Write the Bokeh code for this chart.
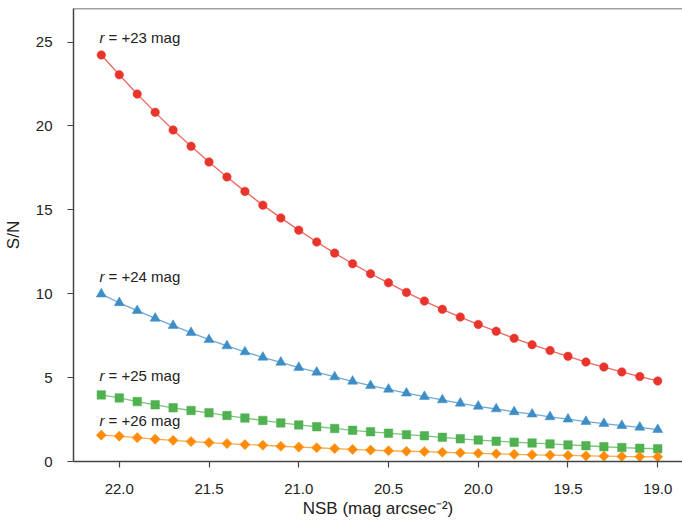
import math
from bokeh.plotting import figure
from bokeh.models import Range1d, FixedTicker, PrintfTickFormatter, Span
from bokeh.core.properties import value
from bokeh.embed import file_html
from bokeh.resources import INLINE

# ---- data ----
nsb = [22.1, 22.0, 21.9, 21.8, 21.7, 21.6, 21.5, 21.4, 21.3, 21.2, 21.1,
       21.0, 20.9, 20.8, 20.7, 20.6, 20.5, 20.4, 20.3, 20.2, 20.1,
       20.0, 19.9, 19.8, 19.7, 19.6, 19.5, 19.4, 19.3, 19.2, 19.1, 19.0]

sn_r23 = [24.23, 23.05, 21.90, 20.81, 19.76, 18.79, 17.85, 16.96, 16.10, 15.28, 14.52,
          13.79, 13.08, 12.42, 11.79, 11.19, 10.65, 10.08, 9.56, 9.07, 8.61,
          8.17, 7.76, 7.34, 6.96, 6.61, 6.27, 5.93, 5.63, 5.34, 5.06, 4.80]
sn_r24 = [9.98, 9.46, 8.99, 8.53, 8.10, 7.68, 7.26, 6.89, 6.53, 6.21, 5.91,
          5.60, 5.32, 5.04, 4.78, 4.52, 4.30, 4.07, 3.87, 3.67, 3.47,
          3.29, 3.13, 2.96, 2.82, 2.66, 2.52, 2.38, 2.26, 2.14, 2.04, 1.90]
sn_r25 = [3.97, 3.79, 3.57, 3.38, 3.20, 3.04, 2.90, 2.74, 2.59, 2.45, 2.30,
          2.18, 2.07, 1.97, 1.86, 1.77, 1.69, 1.60, 1.53, 1.44, 1.35,
          1.28, 1.21, 1.15, 1.10, 1.05, 0.99, 0.94, 0.88, 0.83, 0.79, 0.76]
sn_r26 = [1.57, 1.51, 1.42, 1.33, 1.26, 1.19, 1.13, 1.07, 1.01, 0.97, 0.91,
          0.86, 0.82, 0.77, 0.72, 0.68, 0.64, 0.61, 0.59, 0.55, 0.52,
          0.49, 0.46, 0.43, 0.40, 0.38, 0.36, 0.34, 0.32, 0.30, 0.29, 0.28]

series_labels = ["= +23 mag", "= +24 mag", "= +25 mag", "= +26 mag"]
x_ticks = [22.0, 21.5, 21.0, 20.5, 20.0, 19.5, 19.0]
y_ticks = [0, 5, 10, 15, 20, 25]

# ---- styling / positions ----
colors = ["#e8342b", "#3d8dc6", "#4fb14f", "#fe8c0a"]
markers = ["circle", "triangle", "square", "square"]
marker_sizes = [8.5, 10, 8.5, 7.2]
marker_angles = [0, 0, 0, math.pi / 4]
label_x = 22.11
label_y = [25.25, 11.05, 5.15, 2.45]

FONT = "Liberation Sans"
TXT = "#222222"
AX = "#444444"

p = figure(frame_width=609, frame_height=453,
           x_range=Range1d(22.255, 18.862), y_range=Range1d(0, 27),
           output_backend="svg", toolbar_location=None,
           min_border_left=65, min_border_top=8, min_border_right=0, min_border_bottom=0)
p.outline_line_color = None
p.xgrid.visible = False
p.ygrid.visible = False
p.background_fill_color = "white"
p.border_fill_color = "white"

for ys, c, m, s, a in zip([sn_r23, sn_r24, sn_r25, sn_r26], colors, markers, marker_sizes, marker_angles):
    p.line(nsb, ys, line_color=c, line_width=1.3, line_alpha=0.75)
    p.scatter(nsb, ys, marker=m, size=s, angle=a, fill_color=c, line_color=c, line_width=0.5)

for ly, lab in zip(label_y, series_labels):
    p.text(x=[label_x], y=[ly], text=["r"], text_font=value(FONT), text_font_style="italic",
           text_font_size="15px", text_color=TXT, text_baseline="alphabetic", text_align="left")
    p.text(x=[label_x], y=[ly], text=[lab], text_font=value(FONT),
           text_font_size="15px", text_color=TXT, text_baseline="alphabetic", text_align="left",
           x_offset=9)

p.add_layout(Span(location=27, dimension="width", line_color=AX, line_width=1.5))

p.xaxis.ticker = FixedTicker(ticks=x_ticks)
p.xaxis.formatter = PrintfTickFormatter(format="%.1f")
p.yaxis.ticker = FixedTicker(ticks=y_ticks)
p.xaxis.axis_label = "NSB (mag arcsec\u207b\u00b2)"
p.yaxis.axis_label = "S/N"

for ax in (p.xaxis[0], p.yaxis[0]):
    ax.axis_line_color = AX
    ax.axis_line_width = 1.5
    ax.major_tick_line_color = AX
    ax.major_tick_line_width = 1.2
    ax.major_tick_out = 6
    ax.major_tick_in = 0
    ax.minor_tick_line_color = None
    ax.major_label_text_font = FONT
    ax.major_label_text_font_size = "15px"
    ax.major_label_text_color = TXT
    ax.axis_label_text_font = FONT
    ax.axis_label_text_font_size = "17px"
    ax.axis_label_text_font_style = "normal"
    ax.axis_label_text_color = TXT

p.xaxis.major_label_standoff = 16
p.xaxis.axis_label_standoff = 2
p.yaxis.major_label_standoff = 15
p.yaxis.axis_label_standoff = 10

open("out.html", "w").write(file_html(p, INLINE))
